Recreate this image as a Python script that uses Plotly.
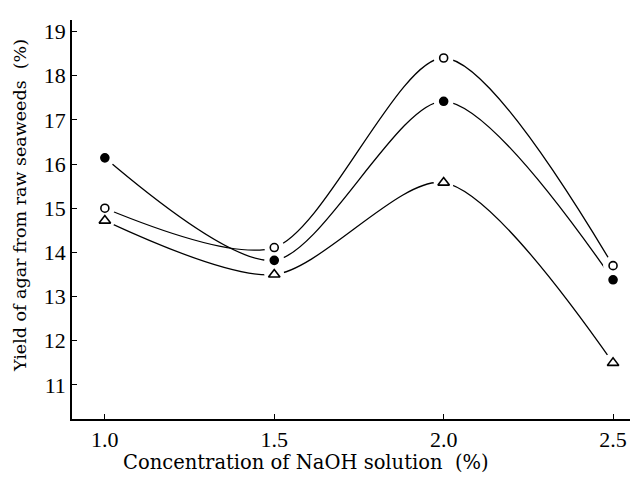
import plotly.graph_objects as go

# Data
naoh = [1.0, 1.5, 2.0, 2.5]
yield_open_circle = [15.0, 14.11, 18.40, 13.70]
yield_filled_circle = [16.14, 13.82, 17.42, 13.38]
yield_triangle = [14.72, 13.50, 15.58, 11.50]

x_ticks = [1.0, 1.5, 2.0, 2.5]
x_ticktext = ["1.0", "1.5", "2.0", "2.5"]
y_ticks = [11, 12, 13, 14, 15, 16, 17, 18, 19]

x_title = "Concentration of NaOH solution  (%)"
y_title = "Yield of agar from raw seaweeds  (%)"

series = [
    (yield_open_circle, "circle-open", 8),
    (yield_filled_circle, "circle", 8),
    (yield_triangle, "triangle-up-open", 10),
]

fig = go.Figure()

# curves
for ys, sym, sz in series:
    fig.add_trace(go.Scatter(
        x=naoh, y=ys, mode="lines",
        line=dict(color="black", width=1.3, shape="spline", smoothing=0.8),
        hoverinfo="skip", showlegend=False,
    ))

# white gaps around the points
for ys, sym, sz in series:
    fig.add_trace(go.Scatter(
        x=naoh, y=ys, mode="markers",
        marker=dict(symbol="circle", size=20, color="white", line=dict(width=0)),
        hoverinfo="skip", showlegend=False,
    ))

# markers
for ys, sym, sz in series:
    fig.add_trace(go.Scatter(
        x=naoh, y=ys, mode="markers",
        marker=dict(symbol=sym, size=sz, color="black",
                    line=dict(color="black", width=1.6)),
        showlegend=False,
    ))

serif = "Liberation Serif"
title_font = "DejaVu Serif"

fig.update_layout(
    width=630, height=477,
    margin=dict(l=72, r=0, t=20, b=58),
    paper_bgcolor="white", plot_bgcolor="white",
    font=dict(family=serif, color="black"),
    showlegend=False,
    annotations=[
        dict(text=x_title, xref="paper", yref="paper", x=0.419, y=-0.108,
             xanchor="center", yanchor="middle", showarrow=False,
             font=dict(family=title_font, size=19.5, color="black")),
        dict(text=y_title, xref="paper", yref="paper", x=-0.093, y=0.534,
             xanchor="center", yanchor="middle", showarrow=False, textangle=-90,
             font=dict(family=title_font, size=17.5, color="black")),
    ],
)

fig.update_xaxes(
    range=[0.903, 2.55],
    tickvals=x_ticks, ticktext=x_ticktext,
    ticks="inside", ticklen=5, tickwidth=1.2, tickcolor="black",
    showline=True, linecolor="black", linewidth=1.5,
    showgrid=False, zeroline=False,
    tickfont=dict(family=serif, size=22, color="black"),
)

fig.update_yaxes(
    range=[10.23, 19.26],
    tickvals=y_ticks,
    ticks="inside", ticklen=5, tickwidth=1.2, tickcolor="black",
    showline=True, linecolor="black", linewidth=1.5,
    showgrid=False, zeroline=False,
    tickfont=dict(family=serif, size=22, color="black"),
)

fig.write_html("out.html")
